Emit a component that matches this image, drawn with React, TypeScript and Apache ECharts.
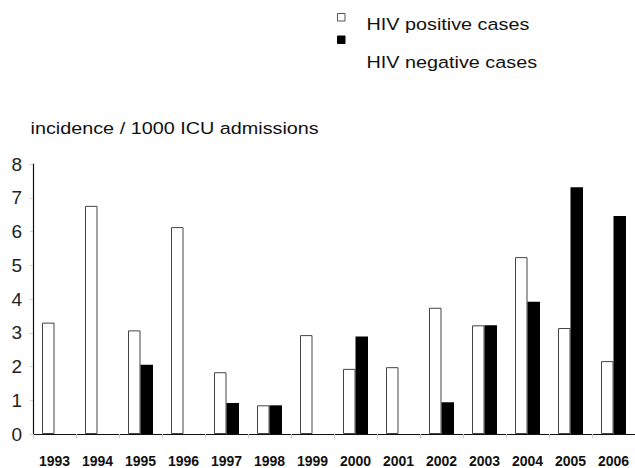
import React, { useEffect, useRef } from "react";
import * as echarts from "echarts";

const years = ["1993", "1994", "1995", "1996", "1997", "1998", "1999", "2000", "2001", "2002", "2003", "2004", "2005", "2006"];
const hivPositive = [3.3, 6.76, 3.07, 6.13, 1.83, 0.85, 2.93, 1.93, 1.98, 3.74, 3.22, 5.24, 3.14, 2.16];
const hivNegative = [0, 0, 2.05, 0, 0.92, 0.85, 0, 2.89, 0, 0.94, 3.22, 3.92, 7.31, 6.46];
const seriesNames = ["HIV positive cases", "HIV negative cases"];
const yTitle = "incidence / 1000 ICU admissions";

const FONT = "'Liberation Sans', Arial, sans-serif";

export default function App() {
  const ref = useRef<HTMLDivElement>(null);
  useEffect(() => {
    document.body.style.margin = "0";
    const chart = echarts.init(ref.current!, null, { renderer: "svg" });
    chart.setOption({
      animation: false,
      backgroundColor: "#fff",
      textStyle: { fontFamily: FONT },
      grid: { left: 33, right: -3, top: 164, bottom: 32 },
      xAxis: {
        type: "category",
        data: years,
        boundaryGap: true,
        axisLine: { lineStyle: { color: "#111", width: 1.2 } },
        axisTick: { show: true, length: 4, lineStyle: { color: "#ccc" } },
        axisLabel: { color: "#111", fontSize: 14, fontWeight: "bold", fontFamily: FONT, margin: 20, interval: 0 },
      },
      yAxis: {
        type: "value",
        min: 0,
        max: 8,
        interval: 1,
        splitLine: { show: false },
        axisLine: { show: true, lineStyle: { color: "#111", width: 1.2 } },
        axisTick: { show: true, length: 3, lineStyle: { color: "#ccc" } },
        axisLabel: { color: "#222", fontSize: 19, fontFamily: FONT, margin: 11 },
      },
      series: [
        {
          name: seriesNames[0],
          type: "bar",
          data: hivPositive,
          barWidth: 12.5,
          barGap: "0%",
          itemStyle: { color: "#fff", borderColor: "#444", borderWidth: 1 },
        },
        {
          name: seriesNames[1],
          type: "bar",
          data: hivNegative,
          barWidth: 12.5,
          barGap: "0%",
          itemStyle: { color: "#000" },
        },
      ],
      graphic: [
        { type: "rect", shape: { x: 337.5, y: 13.5, width: 7.5, height: 7.5 }, style: { fill: "#fff", stroke: "#555", lineWidth: 1 } },
        { type: "text", x: 366.5, y: 25, scaleX: 1.2, style: { text: seriesNames[0], font: `16.5px ${FONT}`, fill: "#111", verticalAlign: "middle" } },
        { type: "rect", shape: { x: 337.5, y: 36, width: 7.5, height: 7.5 }, style: { fill: "#000", stroke: "#000", lineWidth: 1 } },
        { type: "text", x: 366.5, y: 63, scaleX: 1.2, style: { text: seriesNames[1], font: `16.5px ${FONT}`, fill: "#111", verticalAlign: "middle" } },
        { type: "text", x: 30.5, y: 129, scaleX: 1.2, style: { text: yTitle, font: `16.5px ${FONT}`, fill: "#111", verticalAlign: "middle" } },
      ],
    });
    return () => chart.dispose();
  }, []);
  return <div ref={ref} style={{ position: "fixed", left: 0, top: 0, width: 635, height: 468 }} />;
}
